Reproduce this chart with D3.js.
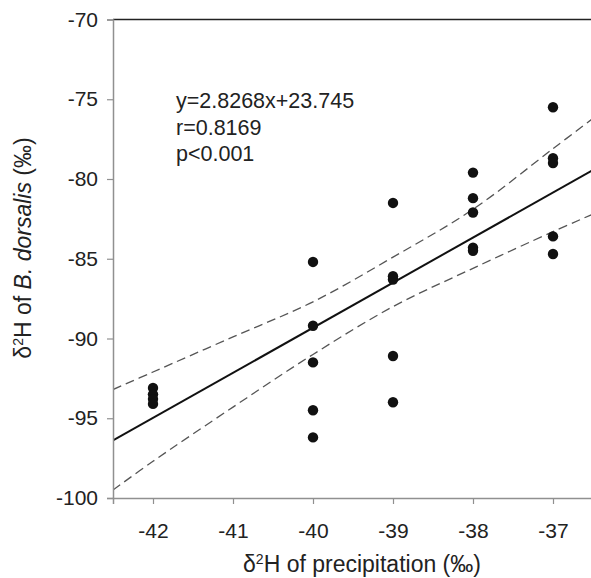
<!DOCTYPE html>
<html>
<head>
<meta charset="utf-8">
<script src="https://cdn.jsdelivr.net/npm/d3@7"></script>
<style>
  html, body { margin: 0; padding: 0; background: #fff; }
  svg { display: block; font-family: "Liberation Sans", Arial, sans-serif; }
</style>
</head>
<body>
<svg id="chart" width="591" height="578"></svg>
<script>
// ---- data ----
const pointX = [-42, -42, -42, -42,
                -40, -40, -40, -40, -40,
                -39, -39, -39, -39, -39,
                -38, -38, -38, -38, -38,
                -37, -37, -37, -37, -37];
const pointY = [-93.1, -93.5, -93.8, -94.1,
                -85.2, -89.2, -91.5, -94.5, -96.2,
                -81.5, -86.1, -86.3, -91.1, -94.0,
                -79.6, -81.2, -82.1, -84.3, -84.5,
                -75.5, -78.7, -79.0, -83.6, -84.7];
const slope = 2.8268;
const intercept = 23.745;
const ciX     = [-42.5, -42, -41, -40, -39, -38, -37, -36.5];
const ciUpper = [-93.2, -92.1, -89.9, -87.7, -84.9, -81.9, -78.1, -76.2];
const ciLower = [-99.5, -97.7, -94.3, -91.0, -88.0, -85.6, -83.3, -82.2];
const xTicks = [-42, -41, -40, -39, -38, -37];
const yTicks = [-100, -95, -90, -85, -80, -75, -70];
const statLines = ["y=2.8268x+23.745", "r=0.8169", "p<0.001"];

// ---- layout ----
const svg = d3.select("#chart");
const mL = 113, mR = 593, mT = 19.5, mB = 498;
const x = d3.scaleLinear().domain([-42.5, -36.5]).range([mL, mR]);
const y = d3.scaleLinear().domain([-100, -70]).range([mB, mT]);

svg.append("clipPath").attr("id", "clip")
  .append("rect").attr("x", mL).attr("y", mT).attr("width", mR - mL).attr("height", mB - mT);

const plot = svg.append("g").attr("clip-path", "url(#clip)");

// confidence band
const curve = d3.line().x((d, i) => x(ciX[i])).y(d => y(d)).curve(d3.curveCatmullRom);
[ciUpper, ciLower].forEach(arr => {
  plot.append("path").attr("d", curve(arr))
    .attr("fill", "none").attr("stroke", "#555").attr("stroke-width", 1.3)
    .attr("stroke-dasharray", "9,5");
});

// regression line
const dom = x.domain();
plot.append("line")
  .attr("x1", x(dom[0])).attr("y1", y(slope * dom[0] + intercept))
  .attr("x2", x(dom[1])).attr("y2", y(slope * dom[1] + intercept))
  .attr("stroke", "#111").attr("stroke-width", 2);

// points
plot.selectAll("circle").data(pointX).join("circle")
  .attr("cx", d => x(d)).attr("cy", (d, i) => y(pointY[i]))
  .attr("r", 5.2).attr("fill", "#111");

// top frame
svg.append("line").attr("x1", mL).attr("x2", mR).attr("y1", mT).attr("y2", mT)
  .attr("stroke", "#222").attr("stroke-width", 1.5);

// axes
const fmt = d => String(d);
const yAxis = svg.append("g").attr("transform", `translate(${mL},0)`)
  .call(d3.axisLeft(y).tickValues(yTicks).tickSize(6).tickPadding(9).tickFormat(fmt));
const xAxis = svg.append("g").attr("transform", `translate(0,${mB})`)
  .call(d3.axisBottom(x).tickValues(xTicks).tickSize(6).tickPadding(19).tickFormat(fmt));
[yAxis, xAxis].forEach(g => {
  g.select(".domain").attr("stroke", "#909090").attr("stroke-width", 1.5);
  g.selectAll(".tick line").attr("stroke", "#909090").attr("stroke-width", 1.2);
  g.selectAll(".tick text").attr("fill", "#222").style("font-size", "21px")
    .style("font-family", '"Liberation Sans", Arial, sans-serif');
});

// axis titles
const xt = svg.append("text").attr("x", 362).attr("y", 572).attr("text-anchor", "middle")
  .attr("fill", "#222").style("font-size", "23px");
xt.append("tspan").text("δ");
xt.append("tspan").text("2").attr("dy", -8).style("font-size", "14px");
xt.append("tspan").text("H of precipitation (‰)").attr("dy", 8);

const yt = svg.append("text").attr("transform", "translate(31,248) rotate(-90)").attr("text-anchor", "middle")
  .attr("fill", "#222").style("font-size", "23px");
yt.append("tspan").text("δ");
yt.append("tspan").text("2").attr("dy", -8).style("font-size", "14px");
yt.append("tspan").text("H of ").attr("dy", 8);
yt.append("tspan").text("B. dorsalis").style("font-style", "italic");
yt.append("tspan").text(" (‰)");

// stats text
svg.append("g").selectAll("text").data(statLines).join("text")
  .attr("x", 176).attr("y", (d, i) => 108 + i * 26.5)
  .attr("fill", "#222").style("font-size", "21.5px").text(d => d);
</script>
</body>
</html>
